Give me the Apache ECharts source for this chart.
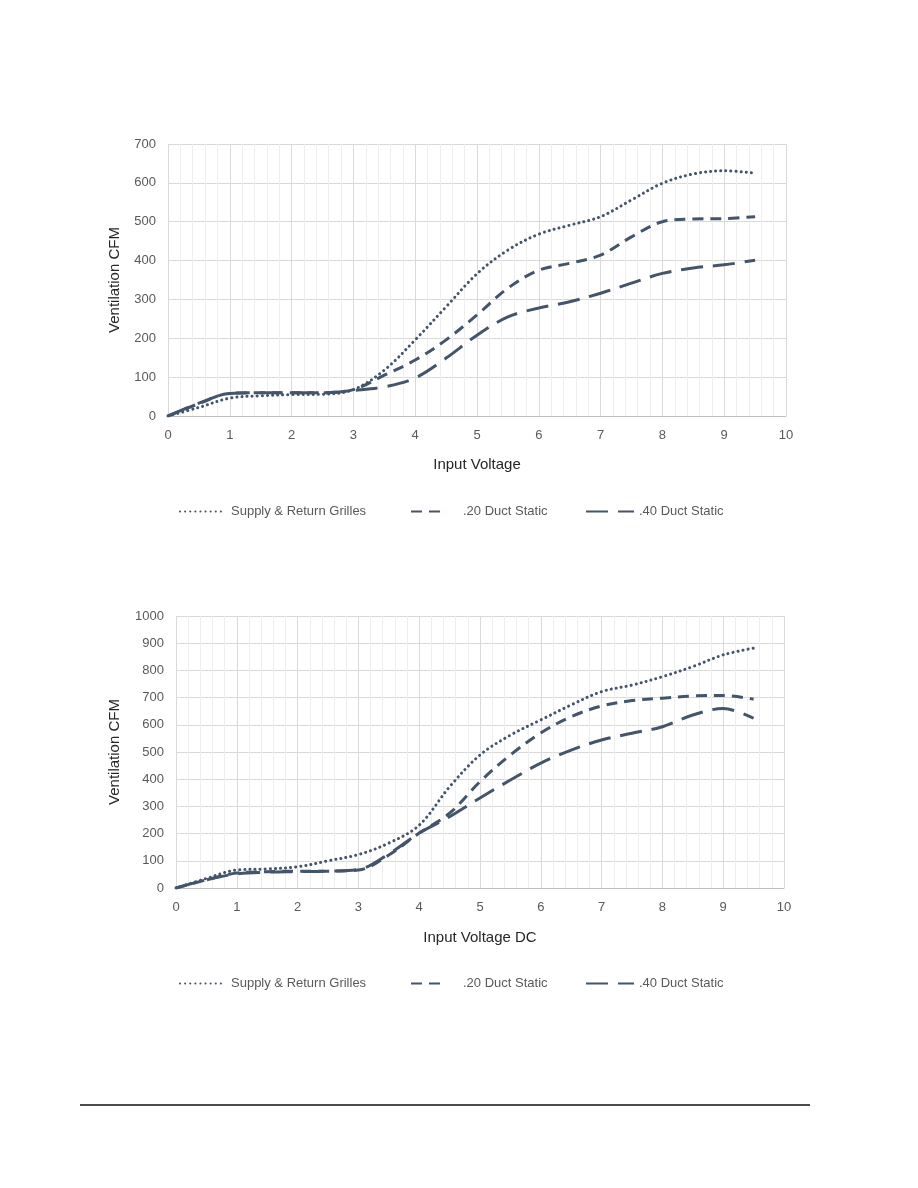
<!DOCTYPE html>
<html>
<head>
<meta charset="utf-8">
<script src="https://cdn.jsdelivr.net/npm/echarts@6/dist/echarts.min.js"></script>
<style>
html,body{margin:0;padding:0;background:#fff;}
#c{width:918px;height:1188px;}
</style>
</head>
<body>
<div id="c"></div>
<script>
// ---- data ----
const volts = [0,0.5,1,1.5,2,2.5,3,3.5,4,4.5,5,5.5,6,6.5,7,7.5,8,8.5,9,9.5];
const seriesNames = ['Supply & Return Grilles', '.20 Duct Static', '.40 Duct Static'];

// Chart 1 (Input Voltage)
const supplyTop = [0,22,46,52,55,56,68,118,196,281,366,427,468,491,513,556,599,623,631,625];
const duct20Top = [0,32,58,60,60,60,68,105,144,196,260,329,375,393,414,461,500,507,508,513];
const duct40Top = [0,33,58,60,60,60,66,75,98,149,208,255,278,294,316,342,367,381,389,401];

// Chart 2 (Input Voltage DC)
const supplyBot = [0,35,66,70,78,100,123,165,231,372,489,562,618,673,722,746,777,814,857,882];
const duct20Bot = [0,30,55,60,62,62,66,121,202,275,391,489,570,630,669,689,698,706,708,694];
const duct40Bot = [0,30,52,58,60,62,68,125,202,262,331,397,459,507,544,569,593,636,660,624];

const xTickLabels = ['0','1','2','3','4','5','6','7','8','9','10'];

// ---- styles ----
const lineColor = '#44546A';
const font = 'Liberation Sans';
const styles = [
  {type:[0.1,5], width:3, cap:'round'},
  {type:[11,7], width:3, cap:'butt'},
  {type:[22,10], width:3, cap:'butt'}
];

function pairs(arr){ return volts.map((v,i)=>[v, arr[i]]); }

function mkSeries(arrs, gi){
  return arrs.map((a,i)=>({
    name: seriesNames[i], type:'line', xAxisIndex:gi, yAxisIndex:gi,
    data: pairs(a), smooth:0.35, symbol:'none',
    lineStyle: Object.assign({color:lineColor}, styles[i]),
    itemStyle:{color:lineColor}, z: 3-i
  }));
}

function xAx(gi, name, gap){
  return {
    type:'value', gridIndex:gi, min:0, max:10, interval:1,
    name:name, nameLocation:'middle', nameGap:gap,
    nameTextStyle:{fontFamily:font, fontSize:15, color:'#262626'},
    axisLine:{show:true, onZero:false, lineStyle:{color:'#bfbfbf', width:1}},
    axisTick:{show:false},
    axisLabel:{fontFamily:font, fontSize:13, color:'#595959', margin:13,
      formatter:(v)=>xTickLabels[Math.round(v)]},
    splitLine:{show:true, lineStyle:{color:'#d9d9d9', width:1}},
    minorTick:{show:false, splitNumber:5},
    minorSplitLine:{show:true, lineStyle:{color:'#eeeeee', width:1}}
  };
}
function yAx(gi, max, gap){
  return {
    type:'value', gridIndex:gi, min:0, max:max, interval:100,
    name:'Ventilation CFM', nameLocation:'middle', nameGap:gap,
    nameTextStyle:{fontFamily:font, fontSize:15, color:'#262626'},
    axisLine:{show:false}, axisTick:{show:false},
    axisLabel:{fontFamily:font, fontSize:13, color:'#595959', margin:12,
      formatter:(v)=>String(v)},
    splitLine:{show:true, lineStyle:{color:'#d9d9d9', width:1}}
  };
}

function legendItem(name, left, top, w, pad){
  return {
    data:[name], left:left, top:top, itemWidth:w, itemHeight:12, itemGap:0,
    selectedMode:false,
    itemStyle:{opacity:0, borderWidth:0},
    textStyle:{fontFamily:font, fontSize:13, color:'#595959', padding:[0,0,0,pad]}
  };
}

const option = {
  backgroundColor:'#fff',
  animation:false,
  grid:[
    {left:168, top:144, width:618, height:272},
    {left:176, top:616, width:608, height:272}
  ],
  xAxis:[xAx(0,'Input Voltage',41), xAx(1,'Input Voltage DC',42)],
  yAxis:[yAx(0,700,46), yAx(1,1000,54)],
  legend:[
    legendItem(seriesNames[0],174,500,42,4),
    legendItem(seriesNames[1],405,500,35,12),
    legendItem(seriesNames[2],580,500,48,0),
    legendItem(seriesNames[0],174,972,42,4),
    legendItem(seriesNames[1],405,972,35,12),
    legendItem(seriesNames[2],580,972,48,0)
  ],
  graphic:[
    {type:'line', shape:{x1:80,y1:1105,x2:810,y2:1105}, style:{stroke:'#111',lineWidth:1.5}}
  ],
  series: mkSeries([supplyTop,duct20Top,duct40Top],0).concat(mkSeries([supplyBot,duct20Bot,duct40Bot],1))
};

const chart = echarts.init(document.getElementById('c'), null, {renderer:'canvas'});
chart.setOption(option);
</script>
</body>
</html>
